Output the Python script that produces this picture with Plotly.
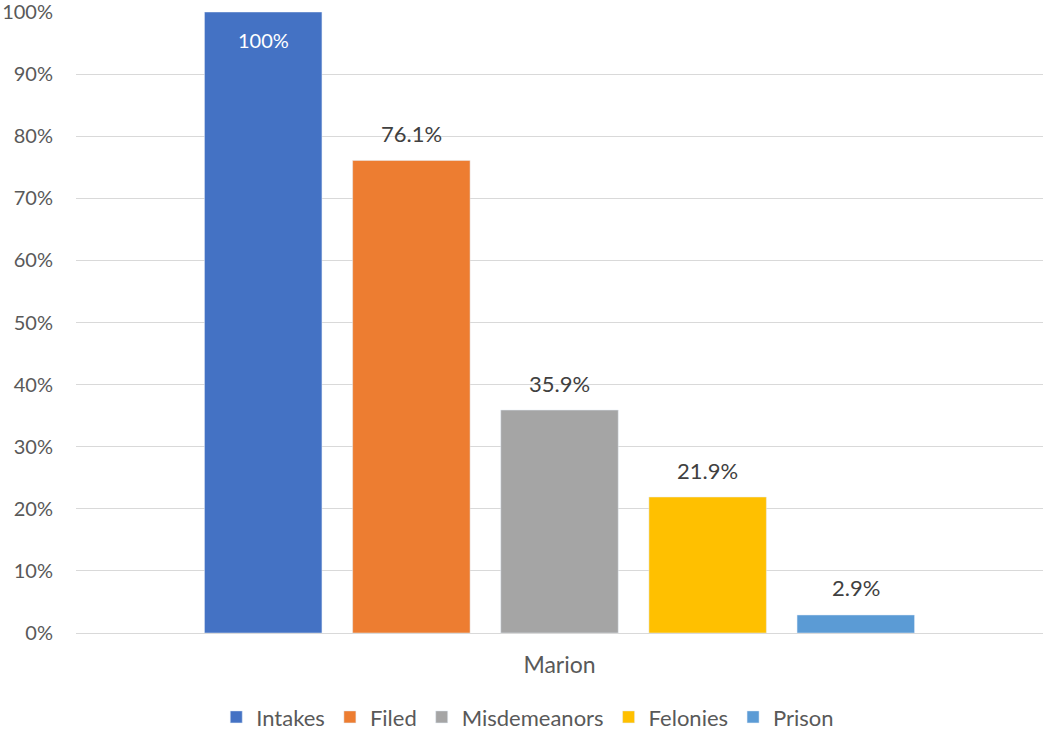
import plotly.graph_objects as go

categories = ["Marion"]
series_names = ["Intakes", "Filed", "Misdemeanors", "Felonies", "Prison"]
series_values = [1.0, 0.761, 0.359, 0.219, 0.029]
series_labels = ["100%", "76.1%", "35.9%", "21.9%", "2.9%"]
colors = ["#4472C4", "#ED7D31", "#A5A5A5", "#FFC000", "#5B9BD5"]
y_ticks = [0, 0.1, 0.2, 0.3, 0.4, 0.5, 0.6, 0.7, 0.8, 0.9, 1.0]
y_tick_labels = ["0%", "10%", "20%", "30%", "40%", "50%", "60%", "70%", "80%", "90%", "100%"]

FONT = "Lato, 'Open Sans', sans-serif"
W, H = 1043, 731
ML, MR, MT, MB = 76, 0, 12, 98
BARGAP = 0.234
plot_w = W - ML - MR
slot = plot_w * (1 - BARGAP) / len(series_names)

fig = go.Figure()
annotations = []
n = len(series_names)
for i, (name, val, lab, col) in enumerate(zip(series_names, series_values, series_labels, colors)):
    fig.add_trace(go.Bar(x=categories, y=[val], name=name, marker_color=col, hoverinfo="skip"))
    inside = val >= 0.95
    annotations.append(dict(
        x=categories[0], y=val, xref="x", yref="y", text=lab, showarrow=False,
        xshift=(i - (n - 1) / 2) * slot, yshift=-28 if inside else 27,
        yanchor="middle", xanchor="center",
        font=dict(family=FONT, size=22 if not inside else 20,
                  color="#FFFFFF" if inside else "#404040"),
    ))

fig.update_layout(
    width=W, height=H,
    margin=dict(l=ML, r=MR, t=MT, b=MB, autoexpand=False),
    paper_bgcolor="#FFFFFF", plot_bgcolor="rgba(0,0,0,0)",
    barmode="group", bargap=BARGAP, bargroupgap=0.207,
    font=dict(family=FONT, size=20, color="#595959"),
    annotations=annotations,
    showlegend=True,
    legend=dict(orientation="h", xref="container", yref="container", x=0.506, y=0.019,
                xanchor="center", yanchor="middle", font=dict(size=22, color="#595959"),
                itemwidth=30, tracegroupgap=0),
    xaxis=dict(showgrid=False, showline=False, ticks="", ticklabelstandoff=16,
               automargin=False, tickfont=dict(size=23, color="#595959")),
    yaxis=dict(range=[0, 1], tickvals=y_ticks, ticktext=y_tick_labels,
               gridcolor="#D9D9D9", gridwidth=1, zeroline=True, zerolinecolor="#D9D9D9",
               zerolinewidth=1, showline=False, ticks="", ticklabelstandoff=22,
               ticklabeloverflow="allow", automargin=False,
               tickfont=dict(size=20, color="#595959")),
)
fig.write_html("out.html", config={"displayModeBar": False},
               post_script="document.body.style.margin='0';document.body.style.padding='0';")
